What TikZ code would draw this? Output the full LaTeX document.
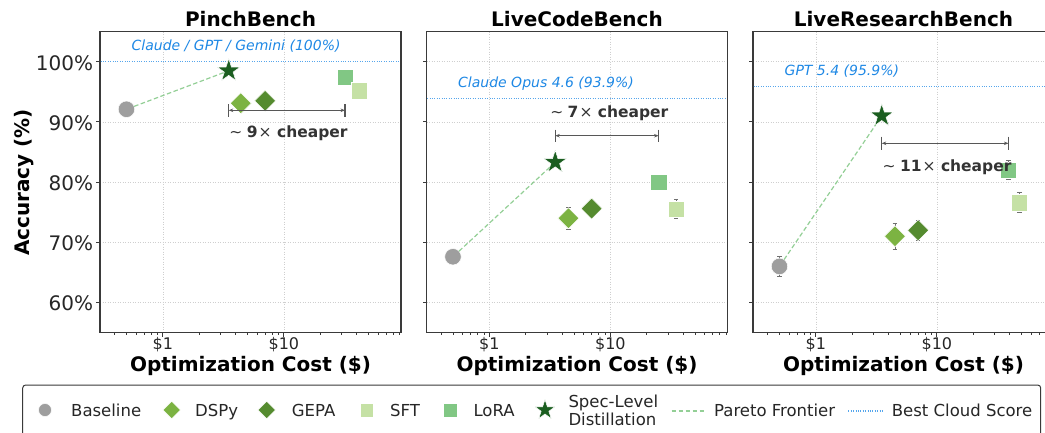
\documentclass[tikz,border=0pt]{standalone}
\usepackage{fontspec}
\setmainfont{DejaVu Sans}
\usetikzlibrary{shapes.geometric,arrows.meta}

\definecolor{cBase}{HTML}{9E9E9E}
\definecolor{cDspy}{HTML}{7CB342}
\definecolor{cGepa}{HTML}{558B2F}
\definecolor{cSft}{HTML}{C5E1A5}
\definecolor{cLora}{HTML}{81C784}
\definecolor{cSpec}{HTML}{1B5E20}
\definecolor{cPareto}{HTML}{81C784}
\definecolor{cCloud}{HTML}{1E88E5}
\definecolor{cFrame}{HTML}{3A3A3A}
\definecolor{cNote}{HTML}{333333}
\definecolor{cGrid}{HTML}{CFCFCF}
\definecolor{cErr}{HTML}{707070}

\tikzset{
  mk/.style={inner sep=0pt, outer sep=0pt, draw=white, line width=0.5pt},
  mbase/.style={mk, circle, fill=cBase, minimum size=16.5pt},
  mdspy/.style={mk, diamond, fill=cDspy, minimum width=21pt, minimum height=21pt},
  mgepa/.style={mk, diamond, fill=cGepa, minimum width=21pt, minimum height=21pt},
  msft/.style={mk, rectangle, fill=cSft, minimum size=16.5pt},
  mlora/.style={mk, rectangle, fill=cLora, minimum size=16.5pt},
  mspec/.style={mk, star, star points=5, star point ratio=2.618, fill=cSpec, minimum size=24pt},
  lbase/.style={mbase, minimum size=13pt},
  ldspy/.style={mdspy, minimum width=17.5pt, minimum height=17.5pt},
  lgepa/.style={mgepa, minimum width=17.5pt, minimum height=17.5pt},
  lsft/.style={msft, minimum size=13.5pt},
  llora/.style={mlora, minimum size=13.5pt},
  lspec/.style={mspec, minimum size=21pt},
  gridline/.style={cGrid, line width=0.8pt, dash pattern=on 1pt off 1.5pt},
  axisline/.style={cFrame, line width=1.1pt},
  minortick/.style={cFrame, line width=0.7pt},
  errbar/.style={cErr, line width=0.8pt},
  pareto/.style={cPareto, opacity=0.85, line width=1.2pt, dash pattern=on 4.5pt off 2.5pt},
  cloudline/.style={cCloud!75, line width=1.1pt, dash pattern=on 1pt off 1.4pt,
    preaction={draw=white, solid, line width=1.3pt}},
  cloudlab/.style={text=cCloud, font=\fontsize{14}{16}\selectfont\itshape, inner sep=0pt, anchor=base west},
  span/.style={cFrame!85, line width=1.1pt, {Stealth[length=4.5pt,width=3.5pt]}-{Stealth[length=4.5pt,width=3.5pt]}},
  spanbar/.style={cFrame!85, line width=1.1pt},
  note/.style={text=cNote, font=\fontsize{15.5}{18}\selectfont\bfseries, inner sep=0pt, anchor=base},
  paneltitle/.style={font=\fontsize{20}{24}\selectfont\bfseries, inner sep=0pt, anchor=base},
  axlab/.style={font=\fontsize{20}{24}\selectfont\bfseries, inner sep=0pt, anchor=base},
  xticklab/.style={font=\fontsize{16}{19}\selectfont, text=black!85, inner sep=0pt, anchor=base},
  yticklab/.style={font=\fontsize{20}{24}\selectfont, text=black!85, inner sep=0pt, anchor=base east},
  legtxt/.style={font=\fontsize{16.5}{19}\selectfont, text=black!85, inner sep=0pt, anchor=base west},
  legframe/.style={cFrame, line width=1pt, rounded corners=3pt}
}

% Axes box, grid, ticks and labels of one panel (local coordinates)
\newcommand\drawaxes[2]{%
  \foreach \g in {60,70,80,90,100} \draw[gridline] (0,{py(\g)}) -- (301,{py(\g)});
  \foreach \g in {1,10} \draw[gridline] ({px(\g)},31.6) -- ({px(\g)},332.6);
  \foreach \g in {60,70,80,90,100} \draw[axisline] (0,{py(\g)}) -- (-4,{py(\g)});
  \foreach \g in {1,10} \draw[axisline] ({px(\g)},332.6) -- ++(0,4);
  \foreach \g in {0.4,0.5,0.6,0.7,0.8,0.9,2,3,4,5,6,7,8,9,20,30,40,50,60,70,80,90}
    \draw[minortick] ({px(\g)},332.6) -- ++(0,2.3);
  \draw[axisline] (0,31.6) rectangle (301,332.6);
  \node[xticklab] (#2tickA) at ({px(1)},349.5) {\$1};
  \node[xticklab] (#2tickB) at ({px(10)},349.5) {\$10};
  \node[axlab] (#2xlab) at (150.5,371) {Optimization Cost (\$)};
  \node[paneltitle] (#2title) at (150.5,26.7) {#1};
}

% Vertical error bar with caps: cost, accuracy, half-width
\newcommand\errbar[3]{%
  \draw[errbar] ({px(#1)-2.2},{py(#2+#3)}) -- ({px(#1)+2.2},{py(#2+#3)})
                ({px(#1)},{py(#2+#3)}) -- ({px(#1)},{py(#2-#3)})
                ({px(#1)-2.2},{py(#2-#3)}) -- ({px(#1)+2.2},{py(#2-#3)});
}

% "~N x cheaper" annotation text
\newcommand\cheaper[1]{{\mdseries ∼}\hspace{4.5pt}#1\hspace{1pt}{\mdseries ×} cheaper}

\begin{document}
\begin{tikzpicture}[x=1pt, y=-1pt,
  declare function={px(\a)=62.9+121*log10(\a); py(\a)=61.7+6.02*(100-\a);}]
\clip (0,0) rectangle (1045,432);
\fill[white] (0,0) rectangle (1045,432);

% ---------------- PinchBench ----------------
\begin{scope}[xshift=100pt]
  \drawaxes{PinchBench}{a}
  \foreach \g/\t in {60/60,70/70,80/80,90/90,100/100}
    \node[yticklab] at (-6.7,{py(\g)+8.3}) {\t\%};
  \draw[cloudline] (0.6,{py(100)}) -- (300.4,{py(100)});
  \node[cloudlab] (aCloud) at ({px(0.55)},{py(100)-11.7}) {Claude / GPT / Gemini (100\%)};
  \node[mbase] (aBase) at ({px(0.5)},{py(92.1)}) {};
  \node[mdspy] (aDspy) at ({px(4.4)},{py(93.1)}) {};
  \node[mgepa] (aGepa) at ({px(7)},{py(93.5)}) {};
  \node[mlora] (aLora) at ({px(32)},{py(97.4)}) {};
  \node[msft] (aSft) at ({px(42)},{py(95.2)}) {};
  \node[mspec] (aSpec) at ({px(3.5)},{py(98.5)}) {};
  \draw[pareto] (aBase) -- (aSpec);
  \coordinate (aL) at ({px(3.5)},110.3);
  \coordinate (aR) at ({px(32)},110.3);
  \draw[span] (aL) -- (aR);
  \draw[spanbar] (aL) ++(0,-6.2) -- ++(0,12.4);
  \draw[spanbar] (aR) ++(0,-6.2) -- ++(0,12.4);
  \node[note] (aNote) at (188.5,137.7) {\cheaper{9}};
\end{scope}

% ---------------- LiveCodeBench ----------------
\begin{scope}[xshift=426.5pt]
  \drawaxes{LiveCodeBench}{b}
  \draw[cloudline] (0.6,{py(93.9)}) -- (300.4,{py(93.9)});
  \node[cloudlab] (bCloud) at ({px(0.55)},{py(93.9)-11.2}) {Claude Opus 4.6 (93.9\%)};
  \errbar{4.5}{74.0}{1.8}
  \errbar{7}{75.6}{1.3}
  \errbar{35}{75.5}{1.6}
  \node[mbase] (bBase) at ({px(0.5)},{py(67.6)}) {};
  \node[mdspy] (bDspy) at ({px(4.5)},{py(74.0)}) {};
  \node[mgepa] (bGepa) at ({px(7)},{py(75.6)}) {};
  \node[mlora] (bLora) at ({px(25)},{py(80.0)}) {};
  \node[msft] (bSft) at ({px(35)},{py(75.5)}) {};
  \node[mspec] (bSpec) at ({px(3.5)},{py(83.3)}) {};
  \draw[pareto] (bBase) -- (bSpec);
  \coordinate (bL) at ({px(3.5)},135.7);
  \coordinate (bR) at ({px(25)},135.7);
  \draw[span] (bL) -- (bR);
  \draw[spanbar] (bL) ++(0,-6.2) -- ++(0,12.4);
  \draw[spanbar] (bR) ++(0,-6.2) -- ++(0,12.4);
  \node[note] (bNote) at (182.8,117.3) {\cheaper{7}};
\end{scope}

% ---------------- LiveResearchBench ----------------
\begin{scope}[xshift=753pt]
  \drawaxes{LiveResearchBench}{c}
  \draw[cloudline] (0.6,{py(95.9)}) -- (301,{py(95.9)});
  \node[cloudlab] (cCloud) at ({px(0.55)},{py(95.9)-11.2}) {GPT 5.4 (95.9\%)};
  \errbar{0.5}{66.0}{1.6}
  \errbar{4.5}{71.0}{2.1}
  \errbar{7}{72.0}{1.7}
  \errbar{39}{82.0}{1.6}
  \errbar{48}{76.6}{1.7}
  \node[mbase] (cBase) at ({px(0.5)},{py(66.0)}) {};
  \node[mdspy] (cDspy) at ({px(4.5)},{py(71.0)}) {};
  \node[mgepa] (cGepa) at ({px(7)},{py(72.0)}) {};
  \node[mlora] (cLora) at ({px(39)},{py(82.0)}) {};
  \node[msft] (cSft) at ({px(48)},{py(76.6)}) {};
  \node[mspec] (cSpec) at ({px(3.5)},{py(91.0)}) {};
  \draw[pareto] (cBase) -- (cSpec);
  \coordinate (cL) at ({px(3.5)},143.3);
  \coordinate (cR) at ({px(39)},143.3);
  \draw[span] (cL) -- (cR);
  \draw[spanbar] (cL) ++(0,-6.6) -- ++(0,13.2);
  \draw[spanbar] (cR) ++(0,-6.6) -- ++(0,13.2);
  \node[note] (cNote) at (194,171.7) {\cheaper{11}};
\end{scope}

% shared y axis label
\node[axlab, rotate=90] (ylab) at (29.6,182.5) {Accuracy (\%)};

% ---------------- legend ----------------
\draw[legframe] (22.7,385) rectangle (1040.7,440);
\node[lbase] (lgBase) at (45,410) {};
\node[legtxt] (lgBaseT) at (71,416.5) {Baseline};
\node[ldspy] (lgDspy) at (171.7,410) {};
\node[legtxt] (lgDspyT) at (195,416.5) {DSPy};
\node[lgepa] (lgGepa) at (266.7,410) {};
\node[legtxt] (lgGepaT) at (291.7,416.5) {GEPA};
\node[lsft] (lgSft) at (366.7,410) {};
\node[legtxt] (lgSftT) at (390,416.5) {SFT};
\node[llora] (lgLora) at (450,410) {};
\node[legtxt] (lgLoraT) at (473.3,416.5) {LoRA};
\node[lspec] (lgSpec) at (545,410) {};
\node[legtxt] (lgSpecA) at (568.3,407.3) {Spec-Level};
\node[legtxt] (lgSpecB) at (568.3,425) {Distillation};
\coordinate (lgParA) at (671.7,411);
\coordinate (lgParB) at (706,411);
\draw[pareto] (lgParA) -- (lgParB);
\node[legtxt] (lgParT) at (714,416.5) {Pareto Frontier};
\coordinate (lgCldA) at (848.3,411);
\coordinate (lgCldB) at (883.3,411);
\draw[cloudline] (lgCldA) -- (lgCldB);
\node[legtxt] (lgCldT) at (891.7,416.5) {Best Cloud Score};
\end{tikzpicture}
\end{document}
